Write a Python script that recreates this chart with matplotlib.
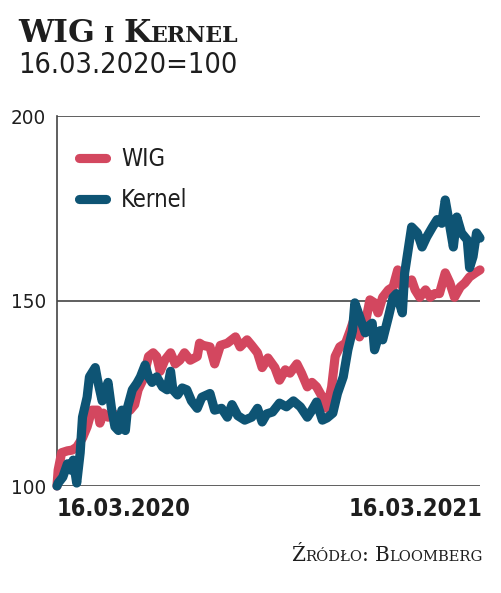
import matplotlib
matplotlib.use('Agg')
import matplotlib.pyplot as plt

# ---------------- data ----------------
series_names = ['WIG', 'Kernel']

kernel_days = [0, 1, 5, 9, 12, 14, 17, 20, 22, 26, 28, 33, 35, 39, 41, 44, 47, 50, 53, 56,
               59, 61, 65, 69, 72, 76, 79, 82, 86, 91, 95, 98, 100, 104, 108, 112, 116, 121,
               125, 132, 136, 142, 147, 151, 156, 162, 168, 173, 177, 181, 186, 192, 198,
               204, 210, 216, 220, 224, 229, 233, 238, 242, 247, 251, 255, 257, 260, 263,
               266, 268, 272, 274, 279, 281, 286, 290, 293, 298, 300, 303, 306, 311, 315,
               319, 324, 328, 332, 335, 337, 342, 345, 349, 354, 356, 359, 362, 365]
kernel_vals = [100, 100.8, 102.4, 106, 104.3, 107, 100.8, 109, 118.6, 124, 129.5, 132, 128.6,
               123, 125.1, 128, 121, 116, 115, 120.5, 115, 121.4, 126, 127.8, 129.5, 132.7,
               129.5, 128, 129.5, 126.8, 126, 131, 126, 124.6, 126.5, 126, 123, 121, 124, 125,
               120.5, 121, 118.6, 122, 119, 117.8, 118.6, 121, 117.3, 119.5, 120, 122.4,
               121.4, 123, 121.4, 118.6, 120.5, 122.7, 117.8, 118.4, 119.7, 125, 129.5,
               136.8, 142, 149.5, 146.8, 144, 141.4, 143, 144, 136.8, 142, 139.5, 145.7, 151,
               152, 146.8, 157.6, 163.8, 170, 168.4, 164.6, 167.3, 170, 172, 171, 177.3,
               173.8, 164.6, 172.7, 168.4, 166.5, 159, 162, 168.4, 167]

wig_days = [0, 1, 4, 9, 13, 17, 22, 26, 30, 35, 37, 40, 44, 48, 53, 57, 63, 67, 70, 74, 79,
            83, 86, 89, 93, 98, 102, 106, 110, 115, 121, 123, 126, 132, 136, 141, 147, 154,
            158, 164, 168, 173, 177, 182, 188, 192, 197, 201, 207, 211, 216, 220, 224, 229,
            233, 237, 240, 244, 249, 253, 257, 261, 266, 270, 274, 277, 281, 286, 290, 294,
            298, 302, 306, 309, 313, 318, 322, 326, 330, 335, 339, 343, 348, 352, 356, 361,
            365]
wig_vals = [100, 104.3, 109, 109.5, 109.7, 110.5, 113, 116, 120.5, 120.5, 117, 119.7, 118.6,
            119.7, 118.6, 119.7, 120.5, 122, 126, 128.6, 135, 136, 135, 131, 134, 136, 133,
            134, 136, 134, 135, 138.6, 138, 137.6, 133, 138, 138.6, 140.3, 137.6, 139.5,
            138, 136, 132, 134.6, 132, 128.6, 131.4, 130.5, 133, 130.5, 126.8, 128, 126.8,
            124, 121, 126.8, 135, 137.6, 138.6, 142, 145.7, 140.3, 144, 150.3, 149.5, 146.8,
            151, 153, 153.8, 158.4, 153.8, 154.9, 155.7, 153, 151, 153, 151, 152, 152,
            157.6, 154.9, 151, 153.8, 154.9, 156.5, 157.6, 158.4]

y_ticks = [100, 150, 200]
y_tick_labels = ['100', '150', '200']
date_labels = ['16.03.2020', '16.03.2021']
title_text = 'WIG i Kernel'
subtitle_text = '16.03.2020=100'
source_text = 'Źródło: Bloomberg'

# ---------------- style ----------------
RED = '#d3475f'
BLUE = '#0e5474'
AXC = '#444444'
TXT = '#1e1e1e'
SANS = ['DejaVu Sans']
STRETCH = 'condensed'
SERIF = ['DejaVu Serif']

W, H = 501, 593
fig = plt.figure(figsize=(W / 100, H / 100), dpi=100)
fig.patch.set_facecolor('white')
renderer = fig.canvas.get_renderer()


def measure(txt, size, family, weight, stretch='normal'):
    t = fig.text(0, 0, txt, fontsize=size, family=family, weight=weight, fontstretch=stretch)
    w = t.get_window_extent(renderer).width
    t.remove()
    return w


def fit_size(txt, target_w, family, weight, stretch='normal', base=12):
    return base * target_w / measure(txt, base, family, weight, stretch)


L, R, T, B = 57, 480, 116, 486
ax = fig.add_axes([L / W, 1 - B / H, (R - L) / W, (B - T) / H])
ax.set_xlim(0, 365)
ax.set_ylim(100, 200)
for s in ['top', 'right', 'bottom']:
    ax.spines[s].set_visible(False)
ax.spines['left'].set_color(AXC)
ax.spines['left'].set_linewidth(1.2)
for yv in y_ticks:
    ax.axhline(yv, color=AXC, lw=1.2, zorder=1)
ax.set_xticks([])
ax.set_yticks(y_ticks)
tick_fs = fit_size('200', 35, SANS, 'light', STRETCH)
ax.set_yticklabels(y_tick_labels, family=SANS, fontsize=tick_fs, color=TXT,
                   fontstretch=STRETCH, weight='light')
ax.tick_params(axis='y', length=0, pad=8)

lw = 6.6
ax.plot(wig_days, wig_vals, color=RED, lw=lw, solid_joinstyle='round',
        solid_capstyle='round', clip_on=False, zorder=3)
ax.plot(kernel_days, kernel_vals, color=BLUE, lw=lw, solid_joinstyle='round',
        solid_capstyle='round', clip_on=False, zorder=4)

# legend (manual)
leg_fs = fit_size('Kernel', 67, SANS, 'normal', STRETCH)
for (name, col, yy) in [(series_names[0], RED, 158), (series_names[1], BLUE, 199)]:
    fig.add_artist(plt.Line2D([79 / W, 106 / W], [1 - yy / H, 1 - yy / H], color=col,
                              lw=lw, solid_capstyle='round', transform=fig.transFigure))
    fig.text(121 / W, 1 - (yy + 1) / H, name, family=SANS, fontsize=leg_fs, color=TXT,
             va='center', ha='left', fontstretch=STRETCH)

# date labels
date_fs = fit_size(date_labels[0], 119, SANS, 'bold', STRETCH) * 1.12
fig.text(57 / W, 1 - 516 / H, date_labels[0], family=SANS, weight='bold', fontsize=date_fs,
         color=TXT, ha='left', va='baseline', fontstretch=STRETCH)
fig.text(482 / W, 1 - 516 / H, date_labels[1], family=SANS, weight='bold', fontsize=date_fs,
         color=TXT, ha='right', va='baseline', fontstretch=STRETCH)


def smallcaps(pieces, base, x_px, y_px, target_w, family, weight, ha='left',
              stretch='normal'):
    # pieces: (text or None for space, relative size)
    def widths(b):
        out = []
        for txt, rel in pieces:
            if txt is None:
                out.append(0.30 * b * rel * 100 / 72)
            else:
                out.append(measure(txt, b * rel, family, weight, stretch))
        return out
    ws = widths(base)
    base = base * target_w / sum(ws)
    ws = widths(base)
    total = sum(ws)
    x = x_px if ha == 'left' else x_px - total
    for (txt, rel), w in zip(pieces, ws):
        if txt is not None:
            fig.text(x / W, 1 - y_px / H, txt, fontsize=base * rel, family=family,
                     weight=weight, color=TXT, ha='left', va='baseline',
                     fontstretch=stretch)
        x += w


def to_pieces(text, rel_small):
    pieces = []
    for word_i, word in enumerate(text.split(' ')):
        if word_i:
            pieces.append((None, 1.0))
        cur, cur_big = '', None
        for ch in word:
            big = ch.isupper() or not ch.isalpha()
            if cur and big != cur_big:
                pieces.append((cur if cur_big else cur.upper(), 1.0 if cur_big else rel_small))
                cur = ''
            cur += ch
            cur_big = big
        if cur:
            pieces.append((cur if cur_big else cur.upper(), 1.0 if cur_big else rel_small))
    return pieces


smallcaps(to_pieces(title_text, 0.70), 22, 18, 42, 220, SERIF, 'bold')
smallcaps([(subtitle_text, 1.0)], 24, 18, 73, 220, SANS, 'light', stretch=STRETCH)
smallcaps(to_pieces(source_text, 0.74), 11, 483, 561, 191, SERIF, 'normal', ha='right')

fig.savefig('out.png', dpi=100, facecolor='white')
